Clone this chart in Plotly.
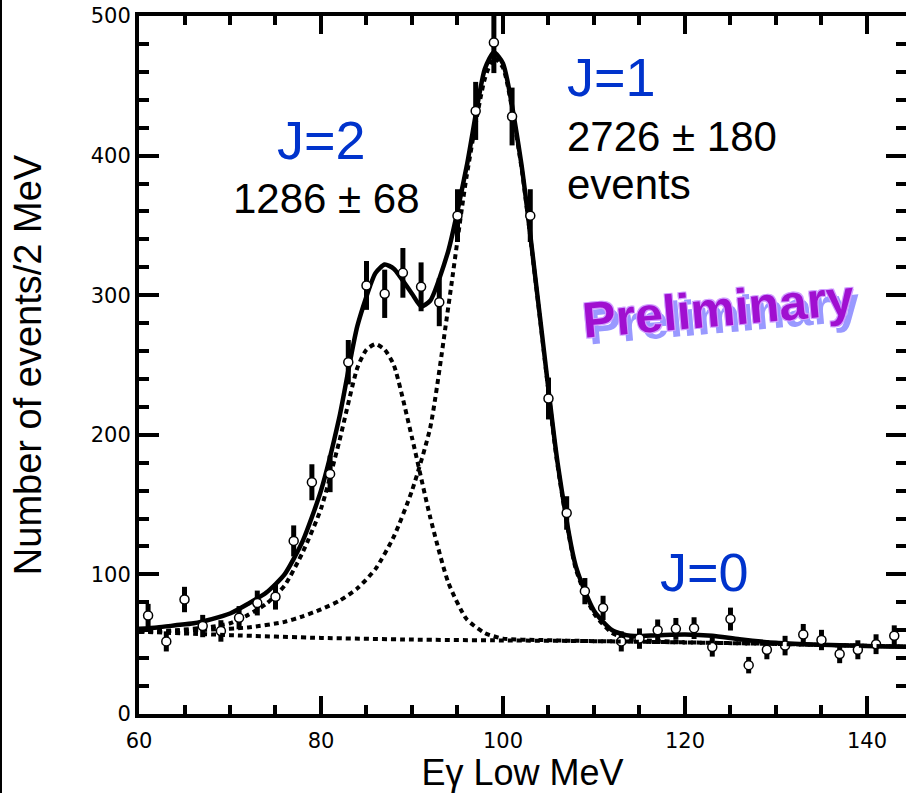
import plotly.graph_objects as go

# ---------------- data ----------------
energy = [61, 63, 65, 67, 69, 71, 73, 75, 77, 79, 81, 83, 85, 87, 89, 91, 93, 95, 97, 99,
          101, 103, 105, 107, 109, 111, 113, 115, 117, 119, 121, 123, 125, 127, 129, 131,
          133, 135, 137, 139, 141, 143]
counts = [70.5, 52, 82, 63, 59.5, 69, 79.5, 84, 124, 166, 172, 252, 307, 301, 316, 306,
          295, 357, 432, 481, 428, 357, 226, 144, 88, 76, 52, 54, 60, 61, 61.5, 48, 68,
          35, 46, 49, 57, 53, 43, 46, 50, 56]
errors = [8.4, 7.2, 9.1, 8, 7.7, 8.3, 8.9, 9.2, 11.1, 12.9, 13.1, 15.9, 17.5, 17.3, 17.8,
          17.5, 17.2, 18.9, 20.8, 21.9, 20.7, 18.9, 15, 12, 9.4, 8.7, 7.2, 7.3, 7.7, 7.8,
          7.8, 6.9, 8.2, 5.9, 6.8, 7, 7.5, 7.3, 6.6, 6.8, 7.1, 7.5]

# total fit (solid)
total_x = [60, 62, 64, 66, 68, 70, 72, 74, 76, 78, 80, 82, 84, 86, 87, 88, 90, 91, 92, 94,
           96, 98, 99, 100, 102, 104, 106, 108, 110, 112, 114, 117, 120, 123, 126, 130,
           134, 138, 142, 144.5]
total_y = [61, 62, 63.5, 65, 68, 72, 79, 87, 100, 124, 160, 212, 278, 316, 322, 319, 301,
           292, 296, 332, 392, 462, 474, 466, 395, 288, 180, 106, 74, 60, 56, 56.5, 57, 56,
           53.5, 51, 49.8, 49, 48.4, 48.2]

# J=2 component + background (dotted)
j2_x = [60, 64, 68, 70, 72, 74, 76, 78, 80, 82, 84, 85, 86, 87, 88, 90, 92, 94, 96, 98,
        100, 104, 110, 120, 130, 144.5]
j2_y = [59, 60, 62.5, 65, 71, 79, 92, 116, 147, 195, 248, 261, 265, 261, 250, 198, 141,
        94, 68, 58, 54, 53, 52.2, 51.3, 50.2, 48.2]

# J=1 component + background (dotted)
j1_x = [60, 64, 68, 72, 76, 78, 80, 82, 84, 86, 88, 90, 92, 94, 96, 98, 99, 100, 102, 104,
        106, 108, 110, 112, 114, 117, 120]
j1_y = [59, 59.5, 60.5, 62, 66, 70, 75, 81, 90, 104, 127, 160, 205, 292, 385, 455, 470,
        463, 393, 287, 178, 104, 72, 58, 53.5, 52.3, 51.3]

# background (dotted)
bg_x = [60, 70, 80, 90, 100, 110, 120, 130, 140, 144.5]
bg_y = [59, 56.5, 54.5, 53.3, 52.7, 52.2, 51.3, 50.2, 48.8, 48.2]

x_ticks = [60, 80, 100, 120, 140]
y_ticks = [0, 100, 200, 300, 400, 500]

# ---------------- figure ----------------
fig = go.Figure()

dot = dict(color="black", width=4, dash="5px,4px", shape="spline", smoothing=0.6)
fig.add_trace(go.Scatter(x=bg_x, y=bg_y, mode="lines", line=dot, yaxis="y2",
                         hoverinfo="skip"))
fig.add_trace(go.Scatter(x=j2_x, y=j2_y, mode="lines", line=dot, hoverinfo="skip"))
fig.add_trace(go.Scatter(x=j1_x, y=j1_y, mode="lines", line=dot, hoverinfo="skip"))
fig.add_trace(go.Scatter(x=total_x, y=total_y, mode="lines",
                         line=dict(color="black", width=4.5, shape="spline", smoothing=0.6)))
fig.add_trace(go.Scatter(
    x=energy, y=counts, mode="markers",
    marker=dict(symbol="circle", size=9, color="white",
                line=dict(color="black", width=1.5)),
    error_y=dict(type="data", array=errors, visible=True, color="black",
                 thickness=5, width=0)))

tickfont = dict(family="DejaVu Sans", size=21, color="black")
sans = "Liberation Sans, Arial, Helvetica, sans-serif"

fig.update_layout(
    width=906, height=793,
    margin=dict(l=139, r=0, t=16, b=79),
    plot_bgcolor="white", paper_bgcolor="white",
    showlegend=False,
    xaxis=dict(range=[60, 144.29], tickvals=x_ticks, ticks="inside", ticklen=18,
               tickwidth=4, tickcolor="black", showline=True, linewidth=4,
               linecolor="black", mirror="ticks", showgrid=False, zeroline=False,
               tickfont=tickfont, ticklabelstandoff=5,
               minor=dict(tick0=60, dtick=5, ticks="inside", ticklen=9, tickwidth=3.5,
                          tickcolor="black", showgrid=False),
               title=dict(text="Eγ Low MeV", font=dict(family=sans, size=36, color="black"),
                          standoff=4)),
    yaxis=dict(range=[0, 500], tickvals=y_ticks, ticks="inside", ticklen=20,
               tickwidth=4, tickcolor="black", showline=True, linewidth=4,
               linecolor="black", mirror=False, showgrid=False, zeroline=False,
               tickfont=tickfont, ticklabelstandoff=0,
               minor=dict(tick0=0, dtick=20, ticks="inside", ticklen=10, tickwidth=3.5,
                          tickcolor="black", showgrid=False),
               title=dict(text="Number of events/2 MeV",
                          font=dict(family=sans, size=38, color="black"), standoff=38)),
    yaxis2=dict(range=[0, 500], overlaying="y", side="right", tickvals=y_ticks,
                ticks="inside", ticklen=20, tickwidth=4, tickcolor="black",
                showline=False, showgrid=False, zeroline=False, showticklabels=False,
                minor=dict(tick0=0, dtick=20, ticks="inside", ticklen=10, tickwidth=3.5,
                           tickcolor="black", showgrid=False)),
)

blue = "#0033cc"
anns = [
    dict(x=80.1, y=411, text="J=2", font=dict(family=sans, size=54, color=blue),
         xanchor="center", yanchor="middle"),
    dict(x=80.55, y=369, text="1286 ± 68", font=dict(family=sans, size=42, color="black"),
         xanchor="center", yanchor="middle"),
    dict(x=106.8, y=456, text="J=1", font=dict(family=sans, size=54, color=blue),
         xanchor="left", yanchor="middle"),
    dict(x=106.8, y=414, text="2726 ± 180", font=dict(family=sans, size=42, color="black"),
         xanchor="left", yanchor="middle"),
    dict(x=106.8, y=379, text="events", font=dict(family=sans, size=42, color="black"),
         xanchor="left", yanchor="middle"),
    dict(x=122.2, y=101.7, text="J=0", font=dict(family=sans, size=54, color=blue),
         xanchor="center", yanchor="middle"),
    dict(x=123.7, y=290, text="Preliminary", textangle=-5,
         font=dict(family=sans, size=50, color="#a010d0", weight=700,
                   shadow="-1px -1px 0 #d0a0ff, 1px -1px 0 #d0a0ff, -1px 1px 0 #d0a0ff, 1px 1px 0 #d0a0ff, 5px 7px 0 #9999ff"),
         xanchor="center", yanchor="middle"),
]
for a in anns:
    a.update(xref="x", yref="y", showarrow=False)
fig.update_layout(annotations=anns)

# thin frame line at the left edge of the picture
fig.add_shape(type="line", xref="paper", yref="paper", x0=-139 / 767 + 0.0013,
              x1=-139 / 767 + 0.0013, y0=-79 / 698, y1=1 + 16 / 698,
              line=dict(color="black", width=2))

fig.write_html("out.html")
